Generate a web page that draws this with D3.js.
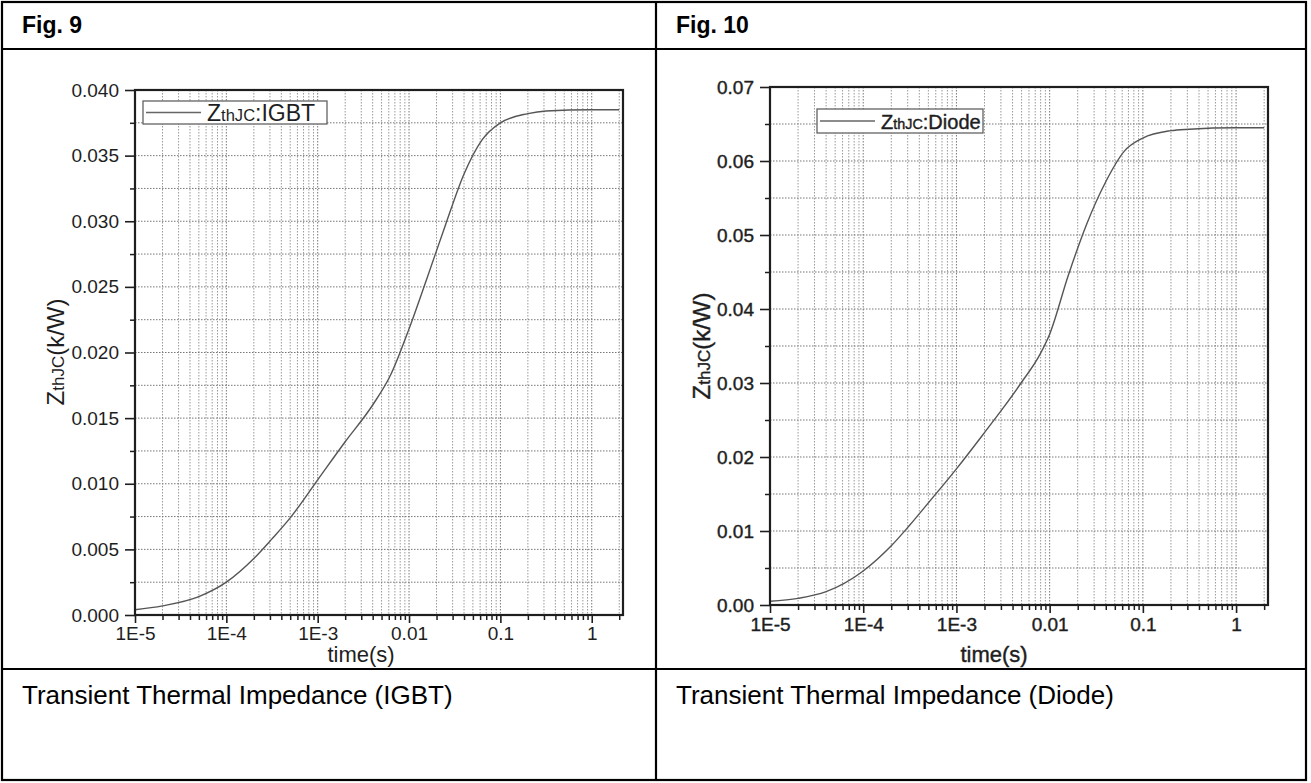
<!DOCTYPE html>
<html>
<head>
<meta charset="utf-8">
<script src="https://cdn.jsdelivr.net/npm/d3@7"></script>
<style>
  html, body { margin: 0; padding: 0; background: #fff; }
  svg { display: block; font-family: "Liberation Sans", Arial, sans-serif; }
</style>
</head>
<body>
<div id="chart"></div>
<script>
// time axis (log) ticks
const timeTicks = [1e-5, 1e-4, 1e-3, 1e-2, 1e-1, 1];
const timeTickLabels = ["1E-5", "1E-4", "1E-3", "0.01", "0.1", "1"];

// Fig. 9 - IGBT transient thermal impedance
const igbtTime = [1e-5, 2e-5, 5e-5, 1e-4, 2e-4, 3.16e-4, 5e-4, 1e-3, 2e-3, 4e-3, 6.3e-3, 1e-2, 1.58e-2, 2.5e-2, 4e-2, 6.3e-2, 0.1, 0.2, 0.316, 1, 2];
const igbtZth  = [0.0004, 0.0007, 0.0014, 0.0025, 0.0043, 0.0058, 0.0074, 0.0103, 0.0132, 0.0160, 0.0183, 0.0218, 0.0257, 0.0297, 0.0336, 0.0362, 0.0375, 0.0382, 0.0384, 0.0385, 0.0385];
const igbtYTicks = [0, 0.005, 0.010, 0.015, 0.020, 0.025, 0.030, 0.035, 0.040];

// Fig. 10 - Diode transient thermal impedance
const diodeTime = [1e-5, 2e-5, 4e-5, 1e-4, 2e-4, 3.16e-4, 5e-4, 1e-3, 2e-3, 3.16e-3, 5e-3, 7.9e-3, 1e-2, 1.58e-2, 2.5e-2, 4e-2, 6.3e-2, 0.1, 0.2, 0.316, 1, 2];
const diodeZth  = [0.0005, 0.0009, 0.0018, 0.0046, 0.0080, 0.0108, 0.0138, 0.0184, 0.0233, 0.0266, 0.0301, 0.0339, 0.0366, 0.0445, 0.0515, 0.0572, 0.0613, 0.0631, 0.0641, 0.0643, 0.0645, 0.0645];
const diodeYTicks = [0, 0.01, 0.02, 0.03, 0.04, 0.05, 0.06, 0.07];

const W = 1311, H = 783;
const ink = "#1e1e1e";

const svg = d3.select("#chart").append("svg")
  .attr("width", W)
  .attr("height", H);

// table frame
const table = svg.append("g").attr("stroke", "#000").attr("stroke-width", 2.2).attr("fill", "none");
table.append("rect").attr("x", 2).attr("y", 2).attr("width", 1304).attr("height", 778);
table.append("line").attr("x1", 656).attr("x2", 656).attr("y1", 2).attr("y2", 780);
table.append("line").attr("x1", 2).attr("x2", 1306).attr("y1", 49).attr("y2", 49);
table.append("line").attr("x1", 2).attr("x2", 1306).attr("y1", 669).attr("y2", 669);

svg.append("text").attr("x", 22).attr("y", 33)
  .attr("font-size", 23).attr("font-weight", "bold").attr("fill", "#000").text("Fig. 9");
svg.append("text").attr("x", 676).attr("y", 33)
  .attr("font-size", 23).attr("font-weight", "bold").attr("fill", "#000").text("Fig. 10");

svg.append("text").attr("x", 22).attr("y", 704)
  .attr("font-size", 26).attr("fill", "#000").text("Transient Thermal Impedance (IGBT)");
svg.append("text").attr("x", 676).attr("y", 704)
  .attr("font-size", 26).attr("fill", "#000").text("Transient Thermal Impedance (Diode)");

function drawPanel(cfg) {
  const x = d3.scaleLog().domain([1e-5, 2.2]).range([cfg.left, cfg.right]);
  const y = d3.scaleLinear().domain([0, cfg.yMax]).range([cfg.bottom, cfg.top]);

  const g = svg.append("g");

  // minor time values (2..9 per decade)
  const minorT = [];
  for (let e = -5; e <= 0; e++) {
    for (let k = 2; k <= 9; k++) {
      const t = k * Math.pow(10, e);
      if (t <= 2.2) minorT.push(t);
    }
  }
  const yMinor = cfg.yTicks.slice(1).map(v => v - cfg.yStep / 2);

  // grid
  const grid = g.append("g").attr("fill", "none").attr("stroke-dasharray", "1.5,1.5");
  grid.selectAll(".gx").data(timeTicks.concat(minorT)).join("line")
    .attr("x1", d => x(d)).attr("x2", d => x(d))
    .attr("y1", cfg.top).attr("y2", cfg.bottom)
    .attr("stroke", d => timeTicks.includes(d) ? "#777" : "#999")
    .attr("stroke-width", 1);
  grid.selectAll(".gy").data(cfg.yTicks.slice(1).concat(yMinor)).join("line")
    .attr("x1", cfg.left).attr("x2", cfg.right)
    .attr("y1", d => y(d)).attr("y2", d => y(d))
    .attr("stroke", "#777")
    .attr("stroke-width", 1);

  // curve
  const line = d3.line()
    .x((d, i) => x(cfg.time[i]))
    .y(d => y(d))
    .curve(d3.curveMonotoneX);
  g.append("path").datum(cfg.values)
    .attr("d", line)
    .attr("fill", "none")
    .attr("stroke", "#555")
    .attr("stroke-width", 1.4);

  // frame
  g.append("rect")
    .attr("x", cfg.left).attr("y", cfg.top)
    .attr("width", cfg.right - cfg.left).attr("height", cfg.bottom - cfg.top)
    .attr("fill", "none").attr("stroke", ink).attr("stroke-width", 2.2);

  const heavy = sel => sel.attr("stroke", cfg.heavy ? ink : null)
    .attr("stroke-width", cfg.heavy ? 0.4 : null);

  // axes
  const xAxis = d3.axisBottom(x).tickValues(timeTicks)
    .tickFormat((d, i) => timeTickLabels[i]).tickSize(8).tickPadding(cfg.xPad);
  const xg = g.append("g").attr("transform", `translate(0,${cfg.bottom})`).call(xAxis);
  xg.select(".domain").remove();
  xg.selectAll(".tick line").attr("stroke", ink).attr("stroke-width", 1.6);
  xg.selectAll(".tick text").attr("font-size", 19).attr("fill", ink)
    .attr("font-family", "Liberation Sans, Arial, sans-serif").call(heavy);

  const xMinor = d3.axisBottom(x).tickValues(minorT).tickSize(5).tickFormat("");
  const xmg = g.append("g").attr("transform", `translate(0,${cfg.bottom})`).call(xMinor);
  xmg.select(".domain").remove();
  xmg.selectAll(".tick line").attr("stroke", ink).attr("stroke-width", 1.5);

  const yAxis = d3.axisLeft(y).tickValues(cfg.yTicks)
    .tickFormat(d3.format(cfg.yFormat)).tickSize(10).tickPadding(6);
  const yg = g.append("g").attr("transform", `translate(${cfg.left},0)`).call(yAxis);
  yg.select(".domain").remove();
  yg.selectAll(".tick line").attr("stroke", ink).attr("stroke-width", 1.6);
  yg.selectAll(".tick text").attr("font-size", 19).attr("fill", ink)
    .attr("font-family", "Liberation Sans, Arial, sans-serif").call(heavy);

  const yMinorAxis = d3.axisLeft(y).tickValues(yMinor).tickSize(5).tickFormat("");
  const ymg = g.append("g").attr("transform", `translate(${cfg.left},0)`).call(yMinorAxis);
  ymg.select(".domain").remove();
  ymg.selectAll(".tick line").attr("stroke", ink).attr("stroke-width", 1.5);

  // axis titles
  g.append("text")
    .attr("x", cfg.xLabelX).attr("y", cfg.xLabelY)
    .attr("text-anchor", "middle")
    .attr("font-size", 22)
    .attr("fill", ink)
    .text("time(s)")
    .call(heavy);

  const yl = g.append("text")
    .attr("transform", `translate(${cfg.yLabelX},${cfg.yLabelY}) rotate(-90)`)
    .attr("text-anchor", "middle")
    .attr("font-size", 24)
    .attr("fill", ink)
    .call(heavy);
  yl.append("tspan").text("Z");
  yl.append("tspan").attr("font-size", 17).text("thJC");
  yl.append("tspan").text("(k/W)");

  // legend
  const lg = g.append("g");
  lg.append("rect")
    .attr("x", cfg.legend[0]).attr("y", cfg.legend[1])
    .attr("width", cfg.legend[2]).attr("height", cfg.legend[3])
    .attr("fill", "#fff").attr("stroke", "#555").attr("stroke-width", 1.2);
  const ly = cfg.legend[1] + cfg.legend[3] / 2;
  lg.append("line")
    .attr("x1", cfg.legend[0] + 3).attr("x2", cfg.legend[0] + 58)
    .attr("y1", ly).attr("y2", ly)
    .attr("stroke", "#666").attr("stroke-width", 1.5);
  const lt = lg.append("text")
    .attr("x", cfg.legend[0] + 64).attr("y", ly + 8)
    .attr("font-size", cfg.legendSize)
    .attr("fill", ink)
    .call(heavy);
  lt.append("tspan").text("Z");
  lt.append("tspan").attr("font-size", cfg.legendSize * 0.72).text("thJC");
  lt.append("tspan").text(cfg.legendName);
}

drawPanel({
  left: 135, right: 623, top: 90, bottom: 615,
  yMax: 0.04, yTicks: igbtYTicks, yStep: 0.005, yFormat: ".3f",
  time: igbtTime, values: igbtZth, xPad: 4,
  xLabelX: 361, xLabelY: 662, yLabelX: 64, yLabelY: 352,
  legend: [143, 101, 184, 23], legendName: ":IGBT", legendSize: 23, heavy: false
});

drawPanel({
  left: 770, right: 1268, top: 87, bottom: 605,
  yMax: 0.07, yTicks: diodeYTicks, yStep: 0.01, yFormat: ".2f",
  time: diodeTime, values: diodeZth, xPad: 5,
  xLabelX: 994, xLabelY: 662, yLabelX: 710, yLabelY: 346,
  legend: [817, 109, 166, 24], legendName: ":Diode", legendSize: 20, heavy: true
});
</script>
</body>
</html>
